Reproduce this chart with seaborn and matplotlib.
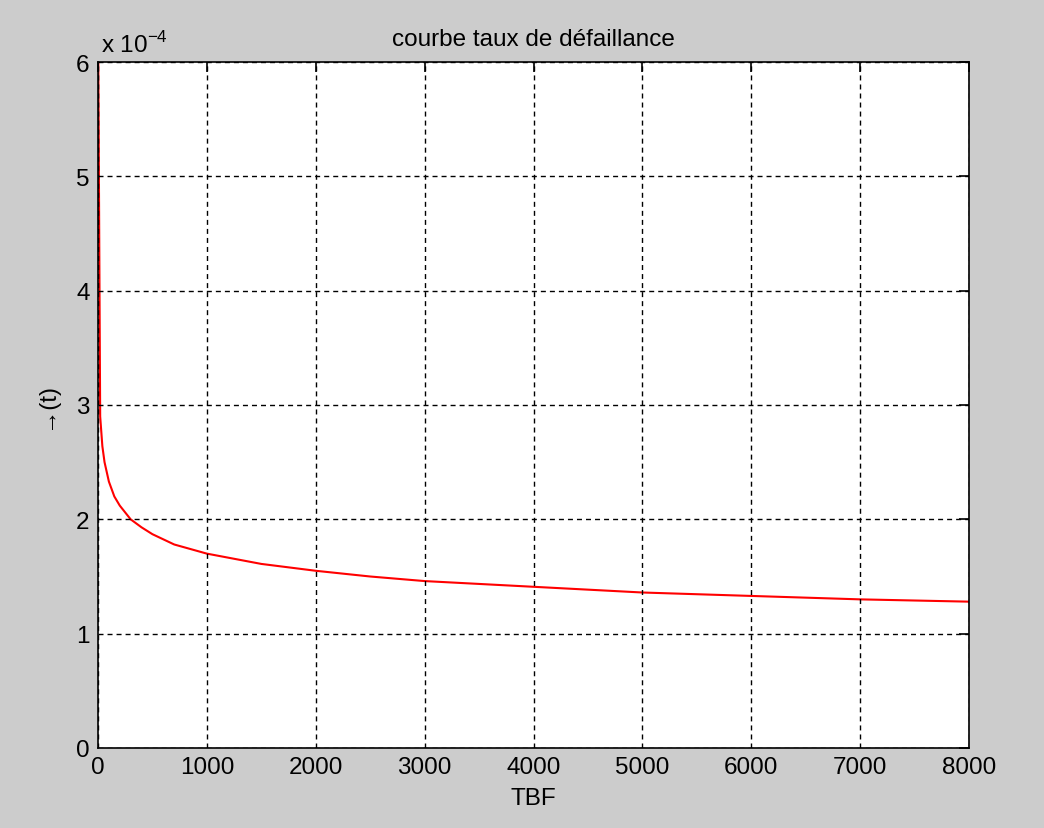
import matplotlib
matplotlib.use("Agg")
import matplotlib.pyplot as plt
import seaborn as sns
import pandas as pd

# Data (failure rate in units of 1e-4)
tbf = [0, 20, 40, 60, 100, 150, 200, 300, 400, 500, 700, 1000, 1500, 2000,
       2500, 3000, 4000, 5000, 6000, 7000, 8000]
lam = [6.5, 2.90, 2.64, 2.50, 2.33, 2.20, 2.12, 2.00, 1.93, 1.87, 1.78, 1.70,
       1.61, 1.55, 1.50, 1.46, 1.41, 1.36, 1.33, 1.30, 1.28]
x_ticks = [0, 1000, 2000, 3000, 4000, 5000, 6000, 7000, 8000]
y_ticks = [0, 1, 2, 3, 4, 5, 6]

sns.set_style("white")
plt.rcParams['font.family'] = ['Liberation Sans', 'DejaVu Sans']
plt.rcParams['text.color'] = 'black'
plt.rcParams['axes.labelcolor'] = 'black'

fig = plt.figure(figsize=(10.44, 8.29), dpi=100, facecolor="#cccccc")
ax = fig.add_axes([98/1044, 80/829, (969-98)/1044, (749-63)/829])
ax.set_facecolor("white")

df = pd.DataFrame({"TBF": tbf, "lam": lam})
sns.lineplot(data=df, x="TBF", y="lam", color="red", linewidth=1.5, ax=ax)

ax.set_xlim(0, 8000)
ax.set_ylim(0, 6)
ax.set_xticks(x_ticks)
ax.set_yticks(y_ticks)
ax.set_xticklabels([str(v) for v in x_ticks])
ax.set_yticklabels([str(v) for v in y_ticks])

ax.grid(True, color="black", linestyle=(0, (3.6, 2.9)), linewidth=1.0)
ax.set_axisbelow(False)
for s in ax.spines.values():
    s.set_color("black")
    s.set_linewidth(1.2)
ax.tick_params(direction="in", length=7, width=1.2, colors="black",
               labelsize=17.5, top=True, right=True, pad=6)

ax.set_xlabel("TBF", fontsize=17.5, labelpad=6)
ax.set_ylabel("→(t)", fontsize=17.5, labelpad=14)
ax.set_title("courbe taux de défaillance", fontsize=17.5, pad=12)
ax.text(0.003, 1.008, r"x 10$^{\mathregular{-4}}$", transform=ax.transAxes,
        fontsize=17.5, ha="left", va="bottom")

fig.savefig("out.png", dpi=100, facecolor=fig.get_facecolor())
